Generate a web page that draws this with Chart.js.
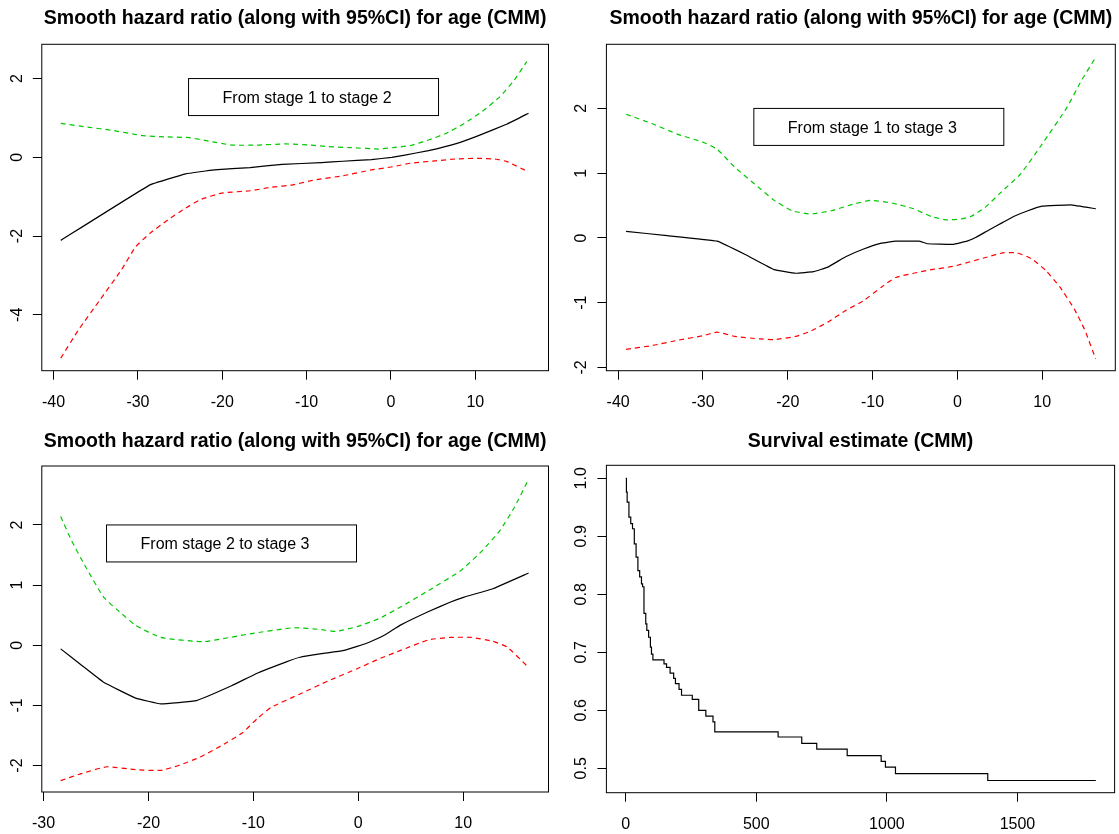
<!DOCTYPE html>
<html>
<head>
<meta charset="utf-8">
<script src="https://cdn.jsdelivr.net/npm/chart.js@4/dist/chart.umd.min.js"></script>
<style>
  html, body { margin: 0; padding: 0; background: #fff; }
  #page { position: relative; width: 1119px; height: 834px; overflow: hidden; }
  canvas { position: absolute; }
</style>
</head>
<body>
<div id="page">
  <canvas id="p1" width="560" height="417" style="left:0;top:0"></canvas>
  <canvas id="p2" width="559" height="417" style="left:560px;top:0"></canvas>
  <canvas id="p3" width="560" height="417" style="left:0;top:417px"></canvas>
  <canvas id="p4" width="559" height="417" style="left:560px;top:417px"></canvas>
</div>
<script>
// titles and box labels
var hazardTitle = 'Smooth hazard ratio (along with 95%CI) for age (CMM)';
var survTitle = 'Survival estimate (CMM)';
var stageLabels = ['From stage 1 to stage 2', 'From stage 1 to stage 3', 'From stage 2 to stage 3'];

// tick labels
var ageTicks12 = [-40, -30, -20, -10, 0, 10];
var ageTicks23 = [-30, -20, -10, 0, 10];
var hrTicks12 = [-4, -2, 0, 2];
var hrTicks13 = [-2, -1, 0, 1, 2];
var hrTicks23 = [-2, -1, 0, 1, 2];
var dayTicks = [0, 500, 1000, 1500];
var survTicks = [0.5, 0.6, 0.7, 0.8, 0.9, 1.0];

// stage 1 -> 2
var fitAge12 = [-39.15, -28.57, -24.34, -20.95, -16.71, -12.90, -8.25, -5.71, -2.32, 0.09, 1.49, 4.45, 7.84, 10.38, 13.77, 16.31];
var fit12 = [-2.11, -0.70, -0.42, -0.32, -0.26, -0.18, -0.135, -0.10, -0.06, 0, 0.05, 0.17, 0.355, 0.55, 0.845, 1.12];
var upAge12 = [-39.15, -35.77, -33.23, -29.42, -26.88, -23.91, -21.37, -18.83, -15.87, -12.48, -9.52, -7.40, -4.86, -1.47, 0.22, 2.34, 4.45, 6.57, 8.69, 10.80, 12.92, 14.62, 16.10];
var up12 = [0.86, 0.76, 0.69, 0.55, 0.52, 0.50, 0.40, 0.31, 0.31, 0.34, 0.31, 0.27, 0.245, 0.21, 0.245, 0.30, 0.44, 0.61, 0.86, 1.16, 1.54, 1.96, 2.43];
var loAge12 = [-39.15, -37.04, -34.50, -31.96, -30.26, -28.57, -26.45, -24.34, -22.64, -20.10, -16.71, -14.17, -11.63, -9.09, -5.71, -2.32, 0.22, 2.34, 5.30, 7.84, 10.38, 12.50, 13.77, 16.10];
var lo12 = [-5.10, -4.38, -3.62, -2.86, -2.27, -1.93, -1.59, -1.29, -1.08, -0.91, -0.85, -0.76, -0.70, -0.575, -0.47, -0.32, -0.24, -0.15, -0.09, -0.04, -0.025, -0.05, -0.11, -0.35];

// stage 1 -> 3
var fitAge13 = [-39.07, -34.23, -28.33, -24.96, -21.59, -19.06, -16.96, -15.27, -13.17, -11.06, -8.96, -7.27, -4.53, -3.48, -0.53, 1.15, 2.21, 3.68, 5.37, 6.63, 8.32, 10.0, 13.37, 16.32];
var fit13 = [0.10, 0.036, -0.05, -0.26, -0.49, -0.545, -0.52, -0.45, -0.29, -0.17, -0.08, -0.05, -0.05, -0.09, -0.10, -0.05, 0.01, 0.12, 0.24, 0.33, 0.42, 0.49, 0.51, 0.45];
var upAge13 = [-39.07, -35.91, -32.97, -30.02, -28.33, -26.23, -23.70, -21.59, -19.49, -17.38, -14.85, -12.33, -10.22, -7.69, -5.16, -3.06, -1.37, 0.31, 1.58, 3.26, 4.95, 7.47, 10.0, 12.95, 14.63, 16.32];
var up13 = [1.91, 1.76, 1.60, 1.48, 1.37, 1.09, 0.81, 0.58, 0.42, 0.37, 0.42, 0.52, 0.58, 0.54, 0.45, 0.33, 0.28, 0.29, 0.33, 0.47, 0.68, 0.99, 1.45, 2.02, 2.43, 2.79];
var loAge13 = [-39.07, -35.91, -32.97, -30.02, -28.33, -26.23, -23.28, -21.59, -19.06, -17.38, -15.27, -13.17, -11.06, -8.96, -7.27, -5.16, -3.06, -0.53, 1.58, 3.68, 5.37, 7.05, 8.74, 10.42, 12.11, 13.80, 15.06, 16.32];
var lo13 = [-1.72, -1.66, -1.58, -1.51, -1.455, -1.52, -1.56, -1.57, -1.52, -1.445, -1.30, -1.12, -0.97, -0.76, -0.61, -0.545, -0.49, -0.44, -0.365, -0.29, -0.23, -0.23, -0.32, -0.50, -0.76, -1.10, -1.43, -1.87];

// stage 2 -> 3
var fitAge23 = [-28.37, -26.32, -24.28, -21.22, -18.83, -15.43, -12.03, -9.64, -6.92, -5.56, -3.51, -1.47, -0.11, 1.25, 2.61, 3.97, 6.70, 8.74, 10.10, 12.83, 16.23];
var fit23 = [-0.06, -0.34, -0.615, -0.88, -0.975, -0.92, -0.67, -0.465, -0.28, -0.20, -0.14, -0.09, -0.02, 0.066, 0.18, 0.33, 0.56, 0.715, 0.80, 0.94, 1.20];
var upAge23 = [-28.37, -27.34, -25.98, -24.28, -22.92, -21.22, -18.83, -14.75, -10.32, -6.24, -3.51, -2.15, -0.11, 1.93, 3.97, 6.70, 9.76, 11.80, 13.51, 14.87, 16.23];
var up23 = [2.14, 1.74, 1.30, 0.80, 0.58, 0.33, 0.13, 0.06, 0.19, 0.29, 0.26, 0.23, 0.31, 0.44, 0.63, 0.91, 1.24, 1.57, 1.91, 2.29, 2.76];
var loAge23 = [-28.37, -26.32, -23.94, -21.22, -18.83, -17.13, -15.09, -13.05, -11.0, -9.64, -8.28, -5.56, -2.83, -0.11, 1.93, 3.97, 6.70, 8.74, 10.78, 12.83, 14.19, 16.06];
var lo23 = [-2.25, -2.13, -2.02, -2.07, -2.08, -2.0, -1.86, -1.67, -1.45, -1.22, -1.03, -0.81, -0.59, -0.39, -0.23, -0.09, 0.09, 0.13, 0.13, 0.066, -0.03, -0.34];

// Kaplan-Meier survival
var survDays = [0, 2.7, 5.5, 12.3, 19.2, 26, 32.9, 39.7, 46.6, 53.4, 60.3, 64.4, 69.9, 76.7, 80.8, 87.7, 94.5, 98.6, 104.1, 146.6, 156.2, 169.9, 183.6, 190.4, 204.1, 213.7, 254.8, 279.5, 306.8, 334.2, 341.1, 583.6, 674.0, 731.5, 848.0, 978.1, 994.5, 1032.9, 1386.3, 1800];
var survProb = [1.0, 0.976, 0.959, 0.933, 0.922, 0.913, 0.887, 0.864, 0.841, 0.830, 0.818, 0.813, 0.767, 0.749, 0.738, 0.726, 0.709, 0.697, 0.687, 0.680, 0.674, 0.664, 0.655, 0.646, 0.636, 0.626, 0.619, 0.600, 0.590, 0.580, 0.563, 0.554, 0.543, 0.533, 0.522, 0.512, 0.502, 0.491, 0.479, 0.479];

var FONT = '"Liberation Sans", Arial, Helvetica, sans-serif';
var GREEN = '#00c800';
var RED = '#ff0000';

Chart.defaults.font.family = FONT;
Chart.defaults.color = '#000';

function toPoints(xs, ys) {
    var pts = [];
    for (var i = 0; i < xs.length; i++) {
        pts.push({ x: xs[i], y: ys[i] });
    }
    return pts;
}

// box round the plot region and the R-style legend box
var framePlugin = {
    id: 'frame',
    afterDraw: function (chart, args, opts) {
        var a = chart.chartArea;
        var ctx = chart.ctx;
        ctx.save();
        ctx.strokeStyle = '#000';
        ctx.lineWidth = 1;
        ctx.strokeRect(a.left, a.top, a.right - a.left, a.bottom - a.top);
        if (opts && opts.text) {
            var x = chart.scales.x.getPixelForValue(opts.x);
            var y = chart.scales.y.getPixelForValue(opts.y);
            ctx.font = '16px ' + FONT;
            var w = ctx.measureText(opts.text).width;
            ctx.strokeRect(x, y, w + 81, 37);
            ctx.fillStyle = '#000';
            ctx.textBaseline = 'middle';
            ctx.fillText(opts.text, x + 34, y + 20);
        }
        ctx.restore();
    }
};

function axis(min, max, ticks, fixed, size, pad, isY, fmt) {
    return {
        type: 'linear',
        min: min,
        max: max,
        afterBuildTicks: function (s) {
            s.ticks = ticks.map(function (v) { return { value: v }; });
        },
        afterFit: function (s) {
            if (isY) { s.width = fixed; } else { s.height = fixed; }
        },
        border: { display: false },
        grid: { drawOnChartArea: false, drawTicks: true, tickLength: 9, color: '#000', tickColor: '#000', tickWidth: 1 },
        ticks: {
            font: { size: size },
            color: '#000',
            padding: pad,
            autoSkip: false,
            minRotation: isY ? 90 : 0,
            maxRotation: isY ? 90 : 0,
            crossAlign: isY ? 'center' : 'near',
            callback: function (v) { return fmt ? fmt(v) : String(v); }
        }
    };
}

function makePanel(id, title, titlePad, datasets, xs, ys, padRight, box) {
    return new Chart(document.getElementById(id), {
        type: 'line',
        data: { datasets: datasets },
        options: {
            responsive: false,
            animation: false,
            devicePixelRatio: 1,
            layout: { padding: { left: 0, right: padRight, top: 0, bottom: 0 } },
            elements: { point: { radius: 0 }, line: { borderWidth: 1.2, tension: 0.15 } },
            scales: { x: xs, y: ys },
            plugins: {
                legend: { display: false },
                tooltip: { enabled: false },
                title: {
                    display: true,
                    text: title,
                    fullSize: false,
                    color: '#000',
                    font: { size: 19.5, weight: 'bold' },
                    padding: titlePad
                },
                frame: box
            }
        },
        plugins: [framePlugin]
    });
}

function hazardSets(fa, f, ua, u, la, l) {
    return [
        { data: toPoints(fa, f), borderColor: '#000', tension: 0.08, parsing: false },
        { data: toPoints(ua, u), borderColor: GREEN, borderDash: [5, 4], parsing: false },
        { data: toPoints(la, l), borderColor: RED, borderDash: [5, 4], parsing: false }
    ];
}

makePanel('p1', hazardTitle, { top: 6.6, bottom: 14.3 },
    hazardSets(fitAge12, fit12, upAge12, up12, loAge12, lo12),
    axis(-41.4, 18.68, ageTicks12, 46.3, 16, 13, false),
    axis(-5.42, 2.87, hrTicks12, 41.8, 16, 8.4, true),
    11.5, { text: stageLabels[0], x: -24, y: 2 });

makePanel('p2', hazardTitle, { top: 6.6, bottom: 14.3 },
    hazardSets(fitAge13, fit13, upAge13, up13, loAge13, lo13),
    axis(-41.39, 18.63, ageTicks12, 46.3, 16, 13, false),
    axis(-2.05, 2.99, hrTicks13, 46.4, 16, 8.4, true),
    3.7, { text: stageLabels[1], x: -24, y: 2 });

makePanel('p3', hazardTitle, { top: 13.3, bottom: 12.3 },
    hazardSets(fitAge23, fit23, upAge23, up23, loAge23, lo23),
    axis(-30.17, 18.13, ageTicks23, 42, 16, 13, false),
    axis(-2.44, 2.98, hrTicks23, 41.8, 16, 8.4, true),
    11.5, { text: stageLabels[2], x: -24, y: 2 });

makePanel('p4', survTitle, { top: 13.3, bottom: 11.6 },
    [{ data: toPoints(survDays, survProb), borderColor: '#000', stepped: 'before', tension: 0, parsing: false }],
    axis(-74, 1872, dayTicks, 41.3, 16, 13, false),
    axis(0.458, 1.0224, survTicks, 46.4, 16, 4.4, true, function (v) { return v.toFixed(1); }),
    4.4, {});
</script>
</body>
</html>
